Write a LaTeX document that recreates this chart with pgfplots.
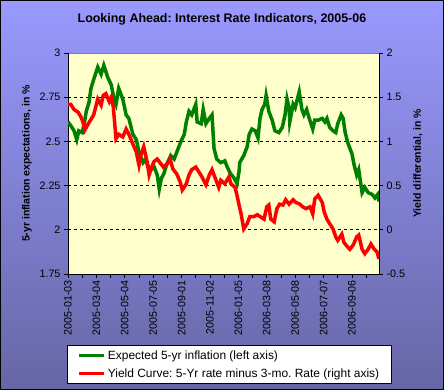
\documentclass[border=0pt]{standalone}
\usepackage{pgfplots}
\usepackage{pgfplotstable}
\pgfplotsset{compat=1.18}
\usepackage{fontspec}
\setmainfont{Liberation Sans}
\frenchspacing
\definecolor{bgtop}{RGB}{153,153,255}
\definecolor{bgbot}{RGB}{102,102,165}
\definecolor{plotbg}{RGB}{255,255,204}
\definecolor{xlgreen}{RGB}{0,128,0}
\definecolor{xlred}{RGB}{255,0,0}

\pgfplotstableread{
day val
0 2.61
4 2.59
9 2.56
13 2.51
16 2.56
21 2.55
24 2.60
27 2.67
31 2.72
34 2.80
38 2.85
44 2.92
49 2.88
53 2.93
59 2.86
64 2.82
68 2.74
71 2.71
75 2.80
81 2.74
86 2.65
90 2.63
96 2.54
101 2.51
105 2.44
111 2.38
115 2.40
117 2.37
123 2.34
127 2.36
132 2.31
135 2.23
138 2.29
142 2.32
146 2.37
152 2.42
157 2.40
161 2.44
167 2.50
172 2.54
175 2.61
179 2.67
183 2.65
189 2.71
191 2.61
197 2.60
200 2.68
204 2.60
209 2.63
213 2.65
216 2.46
220 2.40
226 2.38
232 2.39
235 2.36
240 2.32
246 2.29
250 2.26
253 2.33
254 2.38
260 2.42
265 2.47
268 2.54
272 2.57
277 2.56
281 2.52
284 2.63
287 2.68
291 2.71
293 2.76
297 2.67
302 2.62
306 2.56
312 2.55
317 2.58
321 2.65
324 2.74
327 2.69
328 2.61
333 2.71
336 2.69
342 2.78
346 2.68
349 2.65
353 2.68
356 2.64
362 2.57
365 2.62
370 2.62
376 2.63
380 2.61
383 2.63
387 2.58
392 2.56
396 2.55
399 2.60
404 2.65
407 2.63
410 2.55
414 2.49
420 2.43
423 2.37
427 2.31
430 2.34
435 2.21
439 2.24
444 2.21
450 2.20
454 2.18
458 2.20
460 2.16
}\greendata

\pgfplotstableread{
day val
0 1.42
4 1.42
9 1.36
15 1.33
19 1.28
22 1.22
25 1.13
30 1.20
34 1.25
38 1.30
44 1.48
49 1.41
52 1.52
56 1.54
61 1.45
64 1.50
67 1.39
71 1.03
75 1.08
81 1.05
86 1.14
90 1.08
96 0.97
101 0.88
105 0.73
108 0.85
112 0.94
117 0.77
120 0.62
123 0.69
127 0.77
132 0.80
138 0.74
141 0.71
146 0.74
151 0.80
155 0.69
161 0.63
166 0.54
169 0.45
175 0.52
179 0.62
183 0.68
189 0.71
194 0.65
198 0.60
204 0.51
209 0.62
213 0.68
219 0.56
223 0.48
226 0.56
232 0.52
238 0.60
241 0.52
247 0.48
250 0.39
253 0.28
256 0.18
260 0.01
265 0.07
269 0.15
275 0.15
280 0.17
284 0.15
290 0.12
294 0.26
297 0.28
300 0.12
305 0.09
309 0.24
313 0.29
318 0.28
322 0.34
327 0.29
333 0.34
337 0.31
343 0.29
347 0.26
352 0.24
358 0.26
362 0.18
365 0.35
370 0.39
376 0.31
379 0.20
383 0.12
387 0.07
392 0.01
396 -0.08
399 -0.12
405 -0.05
408 -0.14
413 -0.19
417 -0.22
422 -0.17
427 -0.08
430 -0.06
435 -0.22
439 -0.27
444 -0.22
448 -0.16
453 -0.22
457 -0.25
460 -0.33
}\reddata

\begin{document}
\begin{tikzpicture}
\shade[top color=bgtop,bottom color=bgbot] (0bp,0bp) rectangle (444bp,390bp);
\draw[black,line width=1bp] (0.5bp,0.5bp) rectangle (443.5bp,389.5bp);
\begin{axis}[
  at={(68bp,116bp)}, anchor=south west,
  scale only axis, width=311bp, height=221bp,
  xmin=0, xmax=460, ymin=1.75, ymax=3,
  axis x line*=bottom, axis y line*=left,
  axis line style={black, line width=0.8bp, -},
  axis background/.style={fill=plotbg, draw=gray, line width=0.8bp},
  tick align=outside, major tick length=4bp, minor tick length=4bp,
  every tick/.style={black, line width=0.8bp},
  ytick={1.75,2,2.25,2.5,2.75,3},
  extra y ticks={2,2.25,2.5,2.75}, extra y tick labels={},
  extra y tick style={grid=major, major tick length=0pt},
  major grid style={black, dash pattern=on 3bp off 3bp, line width=0.8bp},
  xtick={0,42,84,126,168,210,252,294,336,378,420},
  minor xtick={21,63,105,147,189,231,273,315,357,399,441},
  xticklabels={2005-01-03,2005-03-04,2005-05-04,2005-07-05,2005-09-01,2005-11-02,2006-01-05,2006-03-08,2006-05-08,2006-07-07,2006-09-06},
  x tick label style={rotate=90, anchor=east, font=\fontsize{10.8}{12}\selectfont, inner sep=2bp},
  y tick label style={font=\fontsize{10.8}{12}\selectfont},
  /pgf/number format/assume math mode=true,
  ylabel={5-yr inflation expectations, in \%},
  ylabel style={at={(axis description cs:-0.132,0.5)}, anchor=center, font=\bfseries\fontsize{10.5}{12}\selectfont},
  title={Looking Ahead: Interest Rate Indicators, 2005-06},
  title style={at={(axis description cs:0.495,1.127)}, anchor=center, font=\bfseries\fontsize{12.5}{14}\selectfont},
]
\addplot[xlgreen, line width=3.5bp] table[x=day,y=val] {\greendata};
\end{axis}
\begin{axis}[
  at={(68bp,116bp)}, anchor=south west,
  scale only axis, width=311bp, height=221bp,
  xmin=0, xmax=460, ymin=-0.5, ymax=2,
  axis x line=none, axis y line*=right,
  axis line style={black, line width=0.8bp, -},
  tick align=outside, major tick length=4bp,
  every tick/.style={black, line width=0.8bp},
  ytick={-0.5,0,0.5,1,1.5,2},
  y tick label style={font=\fontsize{10.8}{12}\selectfont},
  /pgf/number format/assume math mode=true,
  ylabel={Yield differential, in \%},
  ylabel style={at={(axis description cs:1.125,0.5)}, anchor=center, font=\bfseries\fontsize{10.5}{12}\selectfont},
  legend style={at={(axis description cs:-0.0032,-0.3213)}, anchor=north west,
    draw=black, line width=0.8bp, fill=white, inner xsep=10bp, inner ysep=3bp,
    font=\fontsize{12}{13}\selectfont, nodes={inner sep=2bp}, row sep=4bp},
  legend cell align=left,
  legend image code/.code={\draw[#1] (0bp,0bp) -- (25bp,0bp);},
]
\addlegendimage{xlgreen, line width=3bp}
\addlegendentry{Expected 5-yr inflation (left axis)}
\addplot[xlred, line width=3.5bp] table[x=day,y=val] {\reddata};
\addlegendentry{Yield Curve: 5-Yr rate minus 3-mo. Rate (right axis)}
\end{axis}
\end{tikzpicture}
\end{document}
